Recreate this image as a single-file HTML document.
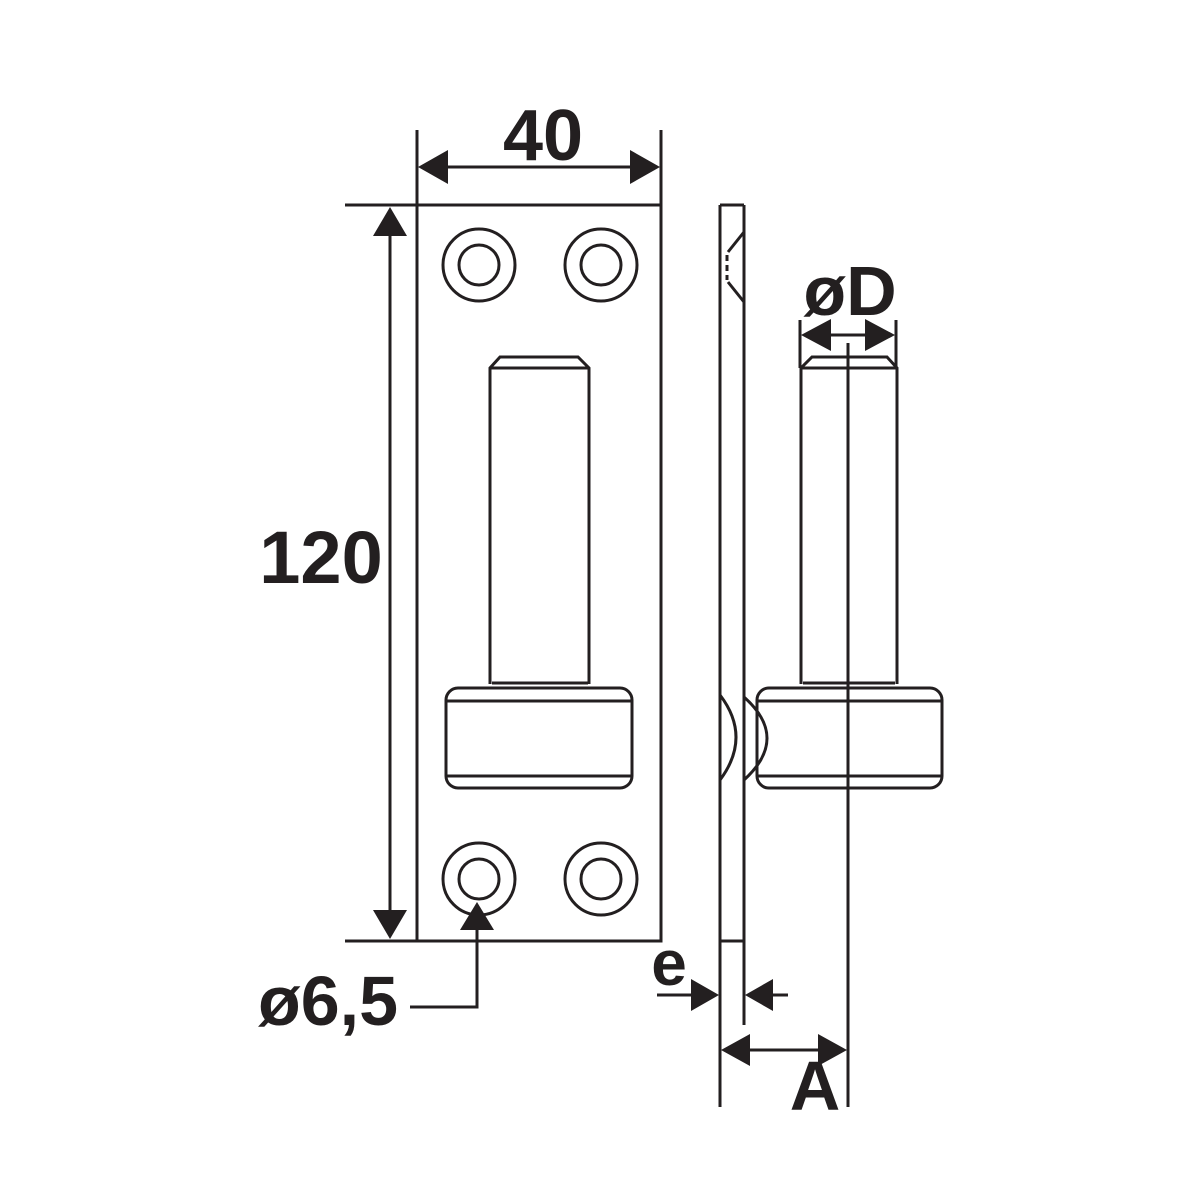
<!DOCTYPE html>
<html><head><meta charset="utf-8"><style>
html,body{margin:0;padding:0;background:#fff;}
svg{display:block}
text{font-family:"Liberation Sans",sans-serif;font-weight:bold;fill:#231f20}
</style></head><body>
<svg width="1200" height="1200" viewBox="0 0 1200 1200" xmlns="http://www.w3.org/2000/svg">
<g stroke="#231f20" stroke-width="3" fill="none">
<!-- plate -->
<rect x="417" y="205" width="244" height="736"/>
<!-- holes -->
<circle cx="479" cy="265" r="36"/><circle cx="479" cy="265" r="20"/>
<circle cx="601" cy="265" r="36"/><circle cx="601" cy="265" r="20"/>
<circle cx="479" cy="879" r="36"/><circle cx="479" cy="879" r="20"/>
<circle cx="601" cy="879" r="36"/><circle cx="601" cy="879" r="20"/>
<!-- front pin -->
<path d="M490 684 L490 368 L500 357 L578 357 L589 368 L589 684"/>
<line x1="490" y1="368" x2="589" y2="368"/>
<line x1="492" y1="683" x2="588" y2="683"/>
<rect x="446" y="688" width="186" height="100" rx="12"/>
<line x1="446" y1="701" x2="632" y2="701"/>
<line x1="446" y1="776" x2="632" y2="776"/>
<!-- dim 40 -->
<line x1="417" y1="130" x2="417" y2="205"/>
<line x1="661" y1="130" x2="661" y2="205"/>
<line x1="440" y1="167" x2="638" y2="167"/>
<!-- dim 120 -->
<line x1="345" y1="205" x2="417" y2="205"/>
<line x1="345" y1="941" x2="417" y2="941"/>
<line x1="390" y1="230" x2="390" y2="915"/>
<!-- leader 6.5 -->
<path d="M410 1007 L477 1007 L477 925"/>
<!-- side plate -->
<line x1="720" y1="205" x2="720" y2="1107"/>
<line x1="744" y1="205" x2="744" y2="1025"/>
<line x1="720" y1="205" x2="744" y2="205"/>
<line x1="720" y1="941" x2="744" y2="941"/>
<path d="M744 232 L728 252"/>
<path d="M728 282 L744 302"/>
<line x1="727" y1="255" x2="727" y2="280" stroke-dasharray="6,4"/>
<!-- bulges -->
<path d="M720 695 Q752 737 720 780"/>
<path d="M744 697 Q790 738 744 780"/>
<line x1="757" y1="706" x2="757" y2="772" stroke-dasharray="6,4"/>
<!-- side pin -->
<path d="M801 684 L801 368 L812 357 L887 357 L897 368 L897 684"/>
<line x1="801" y1="368" x2="897" y2="368"/>
<line x1="803" y1="683" x2="895" y2="683"/>
<rect x="757" y="688" width="185" height="100" rx="12"/>
<line x1="757" y1="701" x2="942" y2="701"/>
<line x1="757" y1="776" x2="942" y2="776"/>
<!-- axis -->
<line x1="848" y1="343" x2="848" y2="1107"/>
<!-- øD dim -->
<line x1="800" y1="320" x2="800" y2="368"/>
<line x1="896" y1="320" x2="896" y2="368"/>
<line x1="820" y1="335" x2="876" y2="335"/>
<!-- e dim -->
<line x1="657" y1="995" x2="700" y2="995"/>
<line x1="764" y1="995" x2="788" y2="995"/>
<!-- A dim -->
<line x1="740" y1="1050" x2="828" y2="1050"/>
</g>
<g fill="#231f20">
<polygon points="418,167 448,150 448,184"/>
<polygon points="660,167 630,150 630,184"/>
<polygon points="390,207 373,236 407,236"/>
<polygon points="390,939 373,910 407,910"/>
<polygon points="477,902 460,930 494,930"/>
<polygon points="801,335 831,319 831,351"/>
<polygon points="895,335 865,319 865,351"/>
<polygon points="719,995 691,979 691,1011"/>
<polygon points="745,995 773,979 773,1011"/>
<polygon points="721,1050 750,1034 750,1066"/>
<polygon points="847,1050 818,1034 818,1066"/>
</g>
<text x="543" y="160" font-size="72" text-anchor="middle">40</text>
<text x="321" y="583" font-size="74" text-anchor="middle">120</text>
<text x="328" y="1025" font-size="70" text-anchor="middle">ø6,5</text>
<text x="850" y="315" font-size="70" text-anchor="middle">øD</text>
<text x="669" y="985" font-size="64" text-anchor="middle">e</text>
<text x="815" y="1110" font-size="70" text-anchor="middle">A</text>
</svg>
</body></html>
